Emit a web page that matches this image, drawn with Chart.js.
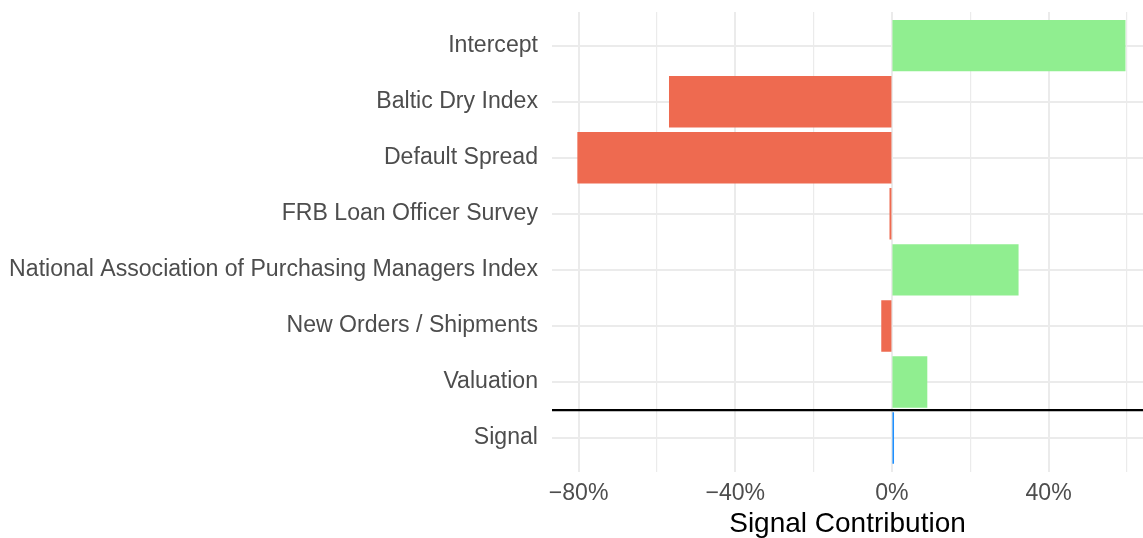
<!DOCTYPE html>
<html>
<head>
<meta charset="utf-8">
<script src="https://cdn.jsdelivr.net/npm/chart.js@4/dist/chart.umd.min.js"></script>
<style>
  html, body { margin: 0; padding: 0; background: #fff; }
  #wrap { width: 1143px; height: 538px; }
</style>
</head>
<body>
<div id="wrap"><canvas id="contribChart" width="1143" height="538"></canvas></div>
<script>
// categories top to bottom, values in percent
const categories = ["Intercept", "Baltic Dry Index", "Default Spread", "FRB Loan Officer Survey",
    "National Association of Purchasing Managers Index", "New Orders / Shipments", "Valuation", "Signal"];
const contributions = [59.5, -56.8, -80.2, -0.5, 32.2, -2.6, 8.9, 0.4];
const xTicks = [-80, -60, -40, -20, 0, 20, 40, 60];
const xLabelled = [-80, -40, 0, 40];
const xRange = [-86.8, 64.1];

const GREEN = '#90ee90', RED = '#ee6a50', BLUE = '#1e90ff';
const GRID = '#ebebeb';
const FONT = "'Liberation Sans', Arial, Helvetica, sans-serif";

const fmtPct = v => (v < 0 ? '\u2212' + Math.abs(v) : String(v)) + '%';

// black separator between the inputs and the signal row
const separatorLine = {
    id: 'separatorLine',
    afterDatasetsDraw(chart) {
        const { ctx, chartArea, scales } = chart;
        const y = scales.y.getPixelForValue(categories.length - 1.5);
        ctx.save();
        ctx.strokeStyle = '#000';
        ctx.lineWidth = 2.2;
        ctx.beginPath();
        ctx.moveTo(chartArea.left, y);
        ctx.lineTo(chartArea.right, y);
        ctx.stroke();
        ctx.restore();
    }
};

new Chart(document.getElementById('contribChart').getContext('2d'), {
    type: 'bar',
    data: {
        datasets: [{
            data: contributions.map((v, i) => ({ x: v, y: i })),
            backgroundColor: contributions.map((v, i) =>
                categories[i] === 'Signal' ? BLUE : (v >= 0 ? GREEN : RED)),
            borderWidth: 0,
            inflateAmount: 0.5,
            categoryPercentage: 1,
            barPercentage: 0.9
        }]
    },
    options: {
        indexAxis: 'y',
        responsive: false,
        animation: false,
        devicePixelRatio: 1,
        layout: { padding: { top: 12, right: 0, left: 0, bottom: 0 } },
        plugins: {
            legend: { display: false },
            tooltip: { enabled: false }
        },
        scales: {
            y: {
                type: 'linear',
                reverse: true,
                offset: false,
                min: -0.6,
                max: categories.length - 1 + 0.6,
                afterBuildTicks: s => { s.ticks = categories.map((c, i) => ({ value: i })); },
                afterFit: s => {
                    s.width = 552;
                    s.paddingTop = 0;
                    s.paddingBottom = 0;
                },
                border: { display: false },
                grid: { color: GRID, lineWidth: 2, drawTicks: false, offset: false },
                ticks: {
                    padding: 14,
                    color: '#4d4d4d',
                    font: { family: FONT, size: 23.1 },
                    callback: v => categories[v]
                }
            },
            x: {
                type: 'linear',
                min: xRange[0],
                max: xRange[1],
                afterBuildTicks: s => { s.ticks = xTicks.map(v => ({ value: v })); },
                afterFit: s => { s.height = 66.3; },
                border: { display: false },
                grid: {
                    color: GRID,
                    drawTicks: false,
                    lineWidth: c => (xLabelled.includes(c.tick.value) ? 2 : 1.2)
                },
                ticks: {
                    padding: 8,
                    autoSkip: false,
                    maxRotation: 0,
                    color: '#4d4d4d',
                    font: { family: FONT, size: 23.1 },
                    callback: v => (xLabelled.includes(v) ? fmtPct(v) : '')
                },
                title: {
                    display: true,
                    text: 'Signal Contribution',
                    color: '#000',
                    font: { family: FONT, size: 28, lineHeight: 1.0 },
                    padding: { top: 0, bottom: 0 }
                }
            }
        }
    },
    plugins: [separatorLine]
});
</script>
</body>
</html>
